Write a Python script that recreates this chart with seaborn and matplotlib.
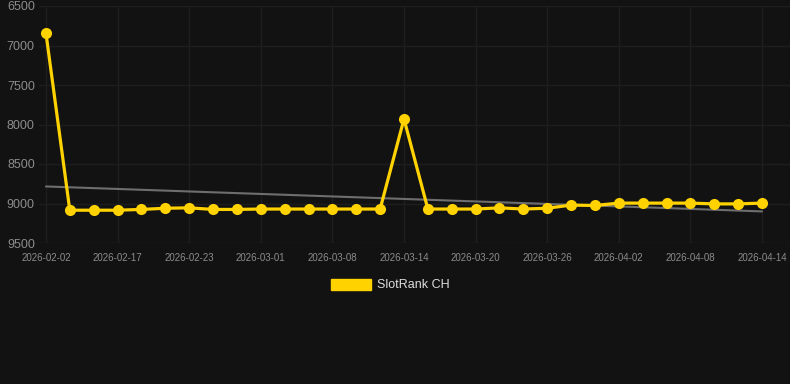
import numpy as np
import pandas as pd
import matplotlib
matplotlib.use("Agg")
import matplotlib.pyplot as plt
from matplotlib.patches import Patch
import seaborn as sns

dates = ["2026-02-02", "2026-02-12", "2026-02-15", "2026-02-17", "2026-02-19", "2026-02-21",
         "2026-02-23", "2026-02-25", "2026-02-27", "2026-03-01", "2026-03-03", "2026-03-05",
         "2026-03-08", "2026-03-10", "2026-03-12", "2026-03-14", "2026-03-16", "2026-03-18",
         "2026-03-20", "2026-03-22", "2026-03-24", "2026-03-26", "2026-03-28", "2026-03-30",
         "2026-04-02", "2026-04-04", "2026-04-06", "2026-04-08", "2026-04-10", "2026-04-12",
         "2026-04-14"]
ranks = [6840, 9085, 9085, 9085, 9075, 9060, 9055, 9075, 9075, 9070, 9070, 9070,
         9070, 9070, 9070, 7930, 9070, 9070, 9070, 9055, 9070, 9060, 9020, 9025,
         8995, 8995, 8995, 8995, 9005, 9005, 8995]
series_name = "SlotRank CH"
y_ticks = [6500, 7000, 7500, 8000, 8500, 9000, 9500]

BG = "#121212"
GRID = "#1e1e1e"
TXT = "#8c8c8c"
GOLD = "#FFD200"

sns.set_theme(style="dark")
plt.rcParams["font.family"] = ["Liberation Sans", "DejaVu Sans"]

idx = np.arange(len(dates))
df = pd.DataFrame({"i": idx, "rank": ranks})
coef = np.polyfit(idx, np.array(ranks, dtype=float), 1)
df["trend"] = np.polyval(coef, idx)

fig = plt.figure(figsize=(7.9, 3.84), dpi=100, facecolor=BG)
ax = fig.add_axes([39 / 790, 1 - 243 / 384, 751 / 790, 237 / 384])
ax.set_facecolor(BG)

sns.lineplot(data=df, x="i", y="trend", ax=ax, color="#6e6e6e", linewidth=1.5, zorder=2)
sns.lineplot(data=df, x="i", y="rank", ax=ax, color=GOLD, linewidth=2.3, marker="o",
             markersize=8, markeredgewidth=0, zorder=3)

ax.set_xlim(-0.29, 31.17)
ax.set_ylim(9500, 6500)
ax.set_yticks(y_ticks)
ax.set_yticklabels([str(v) for v in y_ticks])
tick_idx = list(range(0, len(dates), 3))
ax.set_xticks(tick_idx)
ax.set_xticklabels([dates[i] for i in tick_idx])
ax.set_xlabel("")
ax.set_ylabel("")
ax.grid(True, color=GRID, linewidth=1)
for s in ax.spines.values():
    s.set_visible(False)
ax.tick_params(axis="y", length=0, pad=3, labelsize=9, labelcolor=TXT)
ax.tick_params(axis="x", length=0, pad=7, labelsize=7, labelcolor=TXT)

handle = Patch(facecolor=GOLD, edgecolor=GOLD)
leg = fig.legend([handle], [series_name], loc="center", bbox_to_anchor=(390 / 790, 1 - 285 / 384),
                 frameon=False, handlelength=3.2, handleheight=1.0, handletextpad=0.5,
                 fontsize=9)
for t in leg.get_texts():
    t.set_color("#dddddd")

fig.savefig("out.png", dpi=100, facecolor=BG)
